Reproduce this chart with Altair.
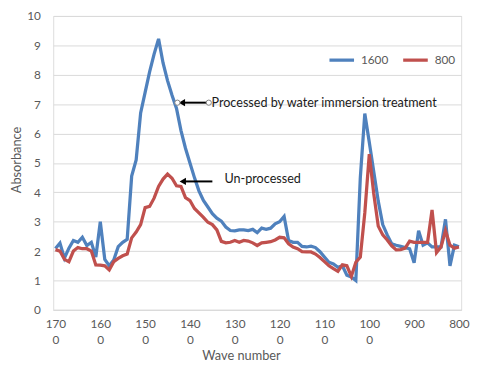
import altair as alt
import pandas as pd

# Wave numbers sampled every 10 cm-1 from 1700 down to 800
waves = list(range(1700, 790, -10))

series_1600 = [
    2.09, 2.27, 1.76, 2.10, 2.36, 2.30, 2.47, 2.19, 2.30, 1.80,
    3.00, 1.72, 1.50, 1.70, 2.15, 2.30, 2.40, 4.55, 5.10, 6.70,
    7.40, 8.10, 8.70, 9.22, 8.40, 7.80, 7.30, 6.85, 6.10, 5.50,
    5.00, 4.50, 4.05, 3.72, 3.50, 3.27, 3.12, 3.02, 2.82, 2.70,
    2.69, 2.72, 2.72, 2.70, 2.74, 2.63, 2.78, 2.74, 2.78, 2.93,
    3.00, 3.18, 2.36, 2.30, 2.30, 2.16, 2.14, 2.17, 2.12, 1.98,
    1.80, 1.62, 1.56, 1.45, 1.50, 1.18, 1.12, 1.00, 4.50, 6.68,
    5.70, 4.70, 3.70, 2.90, 2.55, 2.25, 2.20, 2.16, 2.12, 2.08,
    1.60, 2.69, 2.20, 2.28, 2.14, 2.14, 2.14, 3.08, 1.50, 2.20,
    2.15,
]

series_800 = [
    2.05, 2.00, 1.72, 1.64, 2.00, 2.12, 2.08, 2.08, 2.00, 1.53,
    1.52, 1.50, 1.36, 1.64, 1.75, 1.84, 1.90, 2.45, 2.65, 2.90,
    3.48, 3.52, 3.80, 4.20, 4.45, 4.62, 4.48, 4.22, 4.20, 3.82,
    3.72, 3.45, 3.30, 3.15, 2.98, 2.90, 2.72, 2.33, 2.28, 2.30,
    2.36, 2.30, 2.36, 2.34, 2.28, 2.19, 2.28, 2.30, 2.32, 2.38,
    2.47, 2.45, 2.25, 2.14, 2.08, 1.98, 1.97, 1.97, 1.90, 1.78,
    1.64, 1.50, 1.40, 1.31, 1.53, 1.50, 1.14, 1.62, 1.80, 3.30,
    5.30, 3.95, 2.85, 2.55, 2.38, 2.18, 2.04, 2.05, 2.10, 2.34,
    2.30, 2.30, 2.30, 2.30, 3.40, 1.95, 2.14, 2.70, 2.20, 2.10,
    2.14,
]

series_names = ["1600", "800"]
series_colors = ["#4F81BD", "#C0504D"]
x_ticks = [1700, 1600, 1500, 1400, 1300, 1200, 1100, 1000, 900, 800]
y_ticks = list(range(0, 11))

# Annotations (data units)
ann_text = ["Processed by water immersion treatment", "Un-processed"]
ann_text_x = [1352, 1323]
ann_text_y = [7.05, 4.44]
arrow_x_start = [1358, 1350]
arrow_x_end = [1418, 1414]
arrow_y = [7.05, 4.37]
head_x = [1418, 1416]
handle_x = [1428, 1358]
handle_y = [7.05, 7.05]

n = len(waves)
df = pd.DataFrame({
    "wave": waves * 2,
    "absorbance": series_1600 + series_800,
    "series": [series_names[0]] * n + [series_names[1]] * n,
})

FONT = "Lato"
GRAY = "#595959"

xscale = alt.Scale(domain=[795, 1705], reverse=True, nice=False, zero=False)
yscale = alt.Scale(domain=[0, 10], nice=False)

xaxis = alt.Axis(values=x_ticks, format="d", grid=False, ticks=False,
                 domainColor="#d9d9d9", labelColor=GRAY, labelFontSize=12,
                 labelFont=FONT, labelPadding=9, labelLineHeight=16,
                 labelExpr="length(datum.label) > 3 ? [slice(datum.label, 0, 3), slice(datum.label, 3)] : datum.label",
                 labelFlush=False, labelOverlap=False,
                 titleColor=GRAY, titleFont=FONT, titleFontSize=13,
                 titleFontWeight="normal", titleX=191, titleY=46,
                 titleBaseline="middle", titleAlign="center")
yaxis = alt.Axis(values=y_ticks, grid=True, gridColor="#d9d9d9",
                 domain=False, ticks=False, labelColor=GRAY,
                 labelFontSize=12, labelFont=FONT, labelPadding=13,
                 labelOverlap=False, labelFlush=False,
                 titleColor=GRAY, titleFont=FONT, titleFontSize=13,
                 titleFontWeight="normal", titleX=-37, titleY=146,
                 titleBaseline="middle", titleAlign="center")

XT = "Wave number"
YT = "Absorbance"

lines = alt.Chart(df).mark_line(strokeWidth=3.3).encode(
    x=alt.X("wave:Q", scale=xscale, title=XT, axis=xaxis),
    y=alt.Y("absorbance:Q", scale=yscale, title=YT, axis=yaxis),
    color=alt.Color("series:N",
                    scale=alt.Scale(domain=series_names, range=series_colors),
                    sort=series_names,
                    legend=alt.Legend(title=None, orient="none", direction="horizontal",
                                      legendX=279, legendY=30, symbolType="stroke",
                                      symbolSize=625, symbolStrokeWidth=3.3,
                                      labelFontSize=12, labelFont=FONT, labelColor=GRAY,
                                      columnPadding=8, labelOffset=5)),
)

ann_df = pd.DataFrame({"text": ann_text, "x": ann_text_x, "y": ann_text_y})
arrow_df = pd.DataFrame({"x": arrow_x_start, "x2": arrow_x_end, "y": arrow_y, "hx": head_x})
handle_df = pd.DataFrame({"x": handle_x, "y": handle_y})

texts = alt.Chart(ann_df).mark_text(align="left", baseline="middle", fontSize=12.8,
                                    font=FONT, color="#1a1a1a").encode(
    x=alt.X("x:Q", scale=xscale, title=XT, axis=xaxis),
    y=alt.Y("y:Q", scale=yscale, title=YT, axis=yaxis),
    text="text:N")

arrow_lines = alt.Chart(arrow_df).mark_rule(color="black", strokeWidth=2).encode(
    x=alt.X("x:Q", scale=xscale, title=XT, axis=xaxis), x2="x2:Q",
    y=alt.Y("y:Q", scale=yscale, title=YT, axis=yaxis))

arrow_heads = alt.Chart(arrow_df).mark_point(shape="triangle-left", filled=True,
                                             color="black", size=55, opacity=1).encode(
    x=alt.X("hx:Q", scale=xscale, title=XT, axis=xaxis),
    y=alt.Y("y:Q", scale=yscale, title=YT, axis=yaxis))

handles = alt.Chart(handle_df).mark_point(shape="circle", filled=True, fill="white",
                                          stroke="#7f7f7f", strokeWidth=1, size=28,
                                          opacity=1).encode(
    x=alt.X("x:Q", scale=xscale, title=XT, axis=xaxis),
    y=alt.Y("y:Q", scale=yscale, title=YT, axis=yaxis))

chart = alt.layer(lines, arrow_lines, arrow_heads, handles, texts).properties(
    width=415, height=299,
    autosize=alt.AutoSizeParams(type="none"),
    padding={"left": 46, "top": 5, "right": 11, "bottom": 54},
).configure_view(stroke=None).configure(font=FONT)

chart.save("out.html", embed_options={"renderer": "svg", "actions": False})
